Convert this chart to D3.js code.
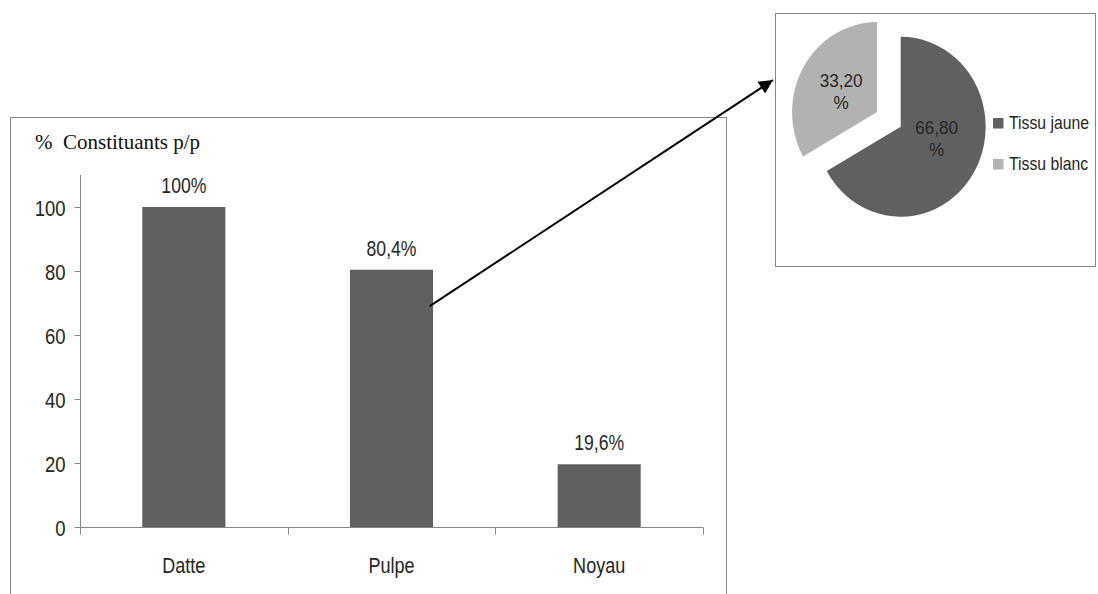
<!DOCTYPE html>
<html>
<head>
<meta charset="utf-8">
<script src="https://cdn.jsdelivr.net/npm/d3@7"></script>
<style>
  html, body { margin: 0; padding: 0; background: #fff; }
  svg { display: block; }
</style>
</head>
<body>
<svg id="chart" width="1098" height="594"></svg>
<script>
// Bar chart: share of each date constituent (weight/weight)
const categories = ["Datte", "Pulpe", "Noyau"];
const barValues = [100, 80.4, 19.6];
const barLabels = ["100%", "80,4%", "19,6%"];
const yTicks = [0, 20, 40, 60, 80, 100];

// Pie chart: composition of the pulp
const pieCategories = ["Tissu jaune", "Tissu blanc"];
const pieValues = [66.8, 33.2];
const pieColors = ["#606060", "#b2b2b2"];

const svg = d3.select("#chart");
const axisColor = "#878787";
const textColor = "#262626";
const barColor = "#606060";
const sansFont = "'Liberation Sans', Arial, sans-serif";
const squeezeK = 0.84;

// Narrow the sans labels horizontally (condensed look), keeping their anchor point.
function squeeze(sel, k) {
  sel.each(function () {
    const t = d3.select(this);
    const x0 = +t.attr("x") || 0;
    const y0 = +t.attr("y") || 0;
    t.attr("x", null).attr("y", null)
      .attr("transform", `translate(${x0},${y0}) scale(${k},1)`);
  });
}

// ---- Bar chart panel ----
svg.append("rect")
  .attr("x", 10.5).attr("y", 117.5).attr("width", 716).attr("height", 520)
  .attr("fill", "none").attr("stroke", axisColor).attr("stroke-width", 1);

svg.append("text")
  .attr("x", 35).attr("y", 149)
  .attr("font-family", "'Liberation Serif', 'Times New Roman', serif")
  .attr("font-size", 21).attr("fill", "#111")
  .attr("xml:space", "preserve")
  .text("%  Constituants p/p");

const x = d3.scaleBand().domain(categories).range([80, 703]).paddingInner(0.6).paddingOuter(0.3);
const y = d3.scaleLinear().domain([0, 110]).range([527, 175]);

// y axis
const yAxis = svg.append("g")
  .attr("transform", "translate(80.5,0)")
  .call(d3.axisLeft(y).tickValues(yTicks).tickSize(6).tickPadding(9).tickFormat(d3.format("d")));
yAxis.select(".domain").attr("stroke", axisColor).attr("d", `M0,${y.range()[1]}V${y(0) + 0.5}`);
yAxis.selectAll(".tick line").attr("stroke", axisColor);
yAxis.selectAll(".tick text")
  .attr("font-size", 22).attr("fill", textColor).attr("font-family", sansFont)
  .attr("dy", null).attr("y", 8)
  .call(squeeze, squeezeK);

// x axis: baseline with tick marks between categories
const xAxisG = svg.append("g").attr("transform", `translate(0,${y(0) + 0.5})`);
xAxisG.append("line")
  .attr("x1", 80).attr("x2", 703).attr("y1", 0).attr("y2", 0)
  .attr("stroke", axisColor);
const [r0, r1] = x.range();
const boundaries = d3.range(categories.length + 1).map(i => r0 + i * ((r1 - r0) / categories.length));
xAxisG.selectAll(".bt").data(boundaries).enter().append("line")
  .attr("x1", d => Math.round(d) + 0.5).attr("x2", d => Math.round(d) + 0.5)
  .attr("y1", 0).attr("y2", 7).attr("stroke", axisColor);
xAxisG.selectAll(".cat").data(categories).enter().append("text")
  .attr("x", d => x(d) + x.bandwidth() / 2).attr("y", 45)
  .attr("text-anchor", "middle").attr("font-size", 22).attr("fill", textColor)
  .attr("font-family", sansFont)
  .text(d => d)
  .call(squeeze, 0.82);

// bars
svg.selectAll(".bar").data(categories).enter().append("rect")
  .attr("x", d => x(d)).attr("width", x.bandwidth())
  .attr("y", (d, i) => y(barValues[i]))
  .attr("height", (d, i) => y(0) - y(barValues[i]))
  .attr("fill", barColor);

svg.selectAll(".blab").data(categories).enter().append("text")
  .attr("x", d => x(d) + x.bandwidth() / 2)
  .attr("y", (d, i) => y(barValues[i]) - 14)
  .attr("text-anchor", "middle").attr("font-size", 22).attr("fill", textColor)
  .attr("font-family", sansFont)
  .text((d, i) => barLabels[i])
  .call(squeeze, 0.8);

// ---- Pie chart panel ----
svg.append("rect")
  .attr("x", 775.5).attr("y", 13.5).attr("width", 320).attr("height", 253)
  .attr("fill", "none").attr("stroke", axisColor).attr("stroke-width", 1);

const radius = 90;
const pieData = d3.pie().sort(null).startAngle(0).endAngle(2 * Math.PI)(pieValues);
const arc = d3.arc().innerRadius(0).outerRadius(radius);
const labelArc = d3.arc().innerRadius(0).outerRadius(88);
const explode = 29;

const pieG = svg.append("g").attr("transform", "translate(900.7,126.7) scale(0.944,1)");
const slices = pieG.selectAll(".slice").data(pieData).enter().append("g")
  .attr("transform", (d, i) => {
    if (i === 0) return null;
    const a = (d.startAngle + d.endAngle) / 2;
    return `translate(${explode * Math.sin(a)},${-explode * Math.cos(a)})`;
  });
slices.append("path").attr("d", arc).attr("fill", (d, i) => pieColors[i]);
slices.each(function (d, i) {
  const c = labelArc.centroid(d);
  const t = d3.select(this).append("text")
    .attr("transform", `translate(${c[0]},${c[1] - (i === 0 ? 12 : 0)}) scale(${0.9 / 0.944},1)`)
    .attr("text-anchor", "middle").attr("font-size", 19).attr("fill", textColor)
    .attr("font-family", sansFont);
  t.append("tspan").attr("x", 0).attr("y", -3).text(d3.format(".2f")(pieValues[i]).replace(".", ","));
  t.append("tspan").attr("x", 0).attr("y", 19).text("%");
});

// legend
const legend = svg.append("g");
pieCategories.forEach((name, i) => {
  const gy = 118 + i * 41;
  legend.append("rect").attr("x", 993).attr("y", gy).attr("width", 10.5).attr("height", 10.5)
    .attr("fill", pieColors[i]);
  legend.append("text").attr("x", 1009).attr("y", gy + 10.5)
    .attr("font-size", 19).attr("fill", textColor).attr("font-family", sansFont)
    .text(name)
    .call(squeeze, 0.83);
});

// ---- Arrow linking the pulp bar to its breakdown ----
const defs = svg.append("defs");
defs.append("marker")
  .attr("id", "arrowHead").attr("viewBox", "0 0 10 10")
  .attr("refX", 10).attr("refY", 5)
  .attr("markerWidth", 8).attr("markerHeight", 7).attr("markerUnits", "strokeWidth")
  .attr("orient", "auto")
  .append("path").attr("d", "M0,0L10,5L0,10Z").attr("fill", "#000");

svg.append("line")
  .attr("x1", x("Pulpe") + x.bandwidth() * 0.96).attr("y1", y(69))
  .attr("x2", 773).attr("y2", 80)
  .attr("stroke", "#000").attr("stroke-width", 2)
  .attr("marker-end", "url(#arrowHead)");
</script>
</body>
</html>
